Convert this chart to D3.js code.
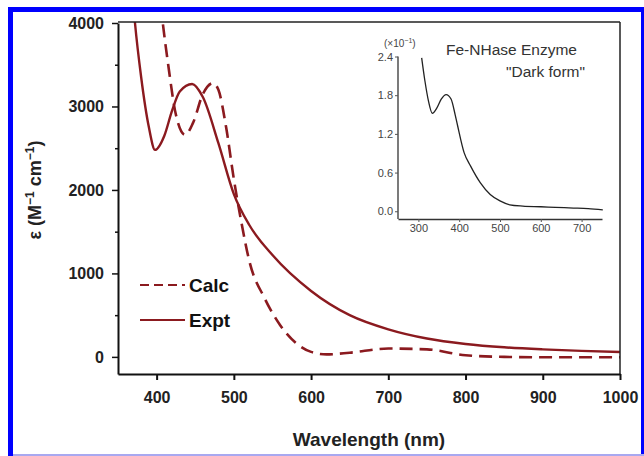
<!DOCTYPE html>
<html><head><meta charset="utf-8">
<script src="https://cdn.jsdelivr.net/npm/d3@7"></script>
<style>html,body{margin:0;padding:0;background:#fff}svg{display:block}</style>
</head><body>
<script>
// ---- data ----
const exptWl  = [365,372,380,390,398,410,420,430,446,460,480,500,520,550,600,650,700,750,800,850,900,950,1000];
const exptEps = [4800,4000,3350,2750,2480,2650,2950,3180,3270,3110,2560,1950,1580,1220,790,500,330,220,155,115,90,72,58];
const calcWl  = [400,408,415,425,437,447,460,473,480,490,500,510,520,540,560,580,600,620,650,700,750,800,850,900,950,1000];
const calcEps = [4700,4000,3500,2900,2660,2800,3150,3280,3200,2750,2130,1600,1150,700,380,170,60,30,50,100,90,20,0,-5,-5,-5];
const insetWl  = [308,316,325,334,345,356,368,380,390,396,412,428,452,476,500,524,556,600,636,680,716,752];
const insetAbs = [2.38,2.02,1.70,1.52,1.60,1.74,1.81,1.74,1.50,1.33,0.91,0.70,0.44,0.26,0.16,0.10,0.08,0.07,0.06,0.05,0.04,0.02];
const xTicks = [400,500,600,700,800,900,1000];
const yTicks = [0,1000,2000,3000,4000];
const yMinor = [500,1500,2500,3500];
const insetXTicks = [300,400,500,600,700];
const insetYTicks = [0,0.6,1.2,1.8,2.4];

const W = 644, H = 456;
const svg = d3.select("body").append("svg").attr("width", W).attr("height", H);
svg.append("rect").attr("width", W).attr("height", H).attr("fill", "#fff");
// frame
svg.append("rect").attr("x", 8).attr("y", 7).attr("width", 5).attr("height", 449).attr("fill", "#0000ff");
svg.append("rect").attr("x", 8).attr("y", 7).attr("width", 636).attr("height", 5).attr("fill", "#0000ff");
svg.append("rect").attr("x", 641).attr("y", 7).attr("width", 3).attr("height", 449).attr("fill", "#0000ff");
svg.append("rect").attr("x", 13).attr("y", 454).attr("width", 631).attr("height", 2).attr("fill", "#a8a8f0");

const color = "#8b1a1f";
const L = 118, R = 620, T = 22, B = 374;
const x = d3.scaleLinear().domain([350, 1000]).range([L, R]);
const y = d3.scaleLinear().domain([-205, 4000]).range([B, T + 1]);

svg.append("clipPath").attr("id", "clip").append("rect")
  .attr("x", L).attr("y", T).attr("width", R - L).attr("height", B - T);

const g = svg.append("g");
const line = d3.line().x(d => x(d[0])).y(d => y(d[1])).curve(d3.curveMonotoneX);
g.append("path").datum(d3.zip(exptWl, exptEps)).attr("d", line)
  .attr("fill", "none").attr("stroke", color).attr("stroke-width", 2.4).attr("clip-path", "url(#clip)");
g.append("path").datum(d3.zip(calcWl, calcEps)).attr("d", line)
  .attr("fill", "none").attr("stroke", color).attr("stroke-width", 2.6)
  .attr("stroke-dasharray", "13,7").attr("clip-path", "url(#clip)");

// box
svg.append("line").attr("x1", L).attr("x2", R).attr("y1", T).attr("y2", T).attr("stroke", "#222").attr("stroke-width", 1.5);
svg.append("line").attr("x1", R).attr("x2", R).attr("y1", T).attr("y2", B).attr("stroke", "#222").attr("stroke-width", 1.5);

const fontB = "'Liberation Sans', Arial, sans-serif";
const xAxis = svg.append("g").attr("transform", `translate(0,${B})`)
  .call(d3.axisBottom(x).tickValues(xTicks).tickSize(6).tickPadding(12).tickSizeOuter(0).tickFormat(d3.format("d")));
xAxis.select(".domain").attr("stroke", "#111").attr("stroke-width", 2);
xAxis.selectAll(".tick line").attr("stroke", "#111").attr("stroke-width", 2);
xAxis.selectAll("text").attr("font-family", fontB).attr("font-weight", "bold").attr("font-size", 16).attr("fill", "#222");

const yAxis = svg.append("g").attr("transform", `translate(${L},0)`)
  .call(d3.axisLeft(y).tickValues(yTicks).tickSize(6).tickPadding(8).tickSizeOuter(0).tickFormat(d3.format("d")));
yAxis.select(".domain").attr("stroke", "#111").attr("stroke-width", 2);
yAxis.selectAll(".tick line").attr("stroke", "#111").attr("stroke-width", 1.5);
yAxis.selectAll("text").attr("font-family", fontB).attr("font-weight", "bold").attr("font-size", 16).attr("fill", "#222");
const yMin = svg.append("g").attr("transform", `translate(${L},0)`)
  .call(d3.axisLeft(y).tickValues(yMinor).tickSize(3).tickFormat(""));
yMin.select(".domain").remove();
yMin.selectAll(".tick line").attr("stroke", "#111").attr("stroke-width", 1.5);

svg.append("text").attr("x", 369).attr("y", 446).attr("text-anchor", "middle")
  .attr("font-family", fontB).attr("font-weight", "bold").attr("font-size", 19).attr("fill", "#222")
  .text("Wavelength (nm)");
const yt = svg.append("text").attr("transform", "translate(41,190) rotate(-90)").attr("text-anchor", "middle")
  .attr("font-family", fontB).attr("font-weight", "bold").attr("font-size", 18).attr("fill", "#222");
yt.append("tspan").text("ε (M");
yt.append("tspan").attr("dy", -7).attr("font-size", 12).text("−1");
yt.append("tspan").attr("dy", 7).text(" cm");
yt.append("tspan").attr("dy", -7).attr("font-size", 12).text("−1");
yt.append("tspan").attr("dy", 7).text(")");

// legend
const leg = [{n: "Calc", dash: "9,5", yy: 285}, {n: "Expt", dash: null, yy: 320}];
leg.forEach(d => {
  svg.append("line").attr("x1", 140).attr("x2", 185).attr("y1", d.yy).attr("y2", d.yy)
    .attr("stroke", color).attr("stroke-width", 2.2).attr("stroke-dasharray", d.dash);
  svg.append("text").attr("x", 189).attr("y", d.yy + 7).attr("font-family", fontB)
    .attr("font-weight", "bold").attr("font-size", 19).attr("fill", "#111").text(d.n);
});

// inset
const ix = d3.scaleLinear().domain([250, 750]).range([398, 602]);
const iy = d3.scaleLinear().domain([-0.12, 2.4]).range([219, 56.5]);
const ig = svg.append("g");
ig.append("path").datum(d3.zip(insetWl, insetAbs))
  .attr("d", d3.line().x(d => ix(d[0])).y(d => iy(d[1])).curve(d3.curveMonotoneX))
  .attr("fill", "none").attr("stroke", "#222").attr("stroke-width", 1.3);
const fontI = "'Liberation Sans', Arial, sans-serif";
const ixa = ig.append("g").attr("transform", "translate(0,219)")
  .call(d3.axisBottom(ix).tickValues(insetXTicks).tickSize(3).tickPadding(2).tickSizeOuter(0));
ixa.select(".domain").attr("stroke", "#333").attr("stroke-width", 1.3);
ixa.selectAll(".tick line").attr("stroke", "#555");
ixa.selectAll("text").attr("font-family", fontI).attr("font-size", 11).attr("fill", "#444");
const iya = ig.append("g").attr("transform", "translate(398,0)")
  .call(d3.axisLeft(iy).tickValues(insetYTicks).tickSize(3).tickPadding(2).tickSizeOuter(0).tickFormat(d3.format(".1f")));
iya.select(".domain").attr("d", `M0,${iy(2.4)}V219`).attr("stroke", "#333").attr("stroke-width", 1.3);
iya.selectAll(".tick line").attr("stroke", "#555");
iya.selectAll("text").attr("font-family", fontI).attr("font-size", 11).attr("fill", "#444");
const sc = ig.append("text").attr("x", 384).attr("y", 47).attr("font-family", fontI).attr("font-size", 10).attr("fill", "#444");
sc.append("tspan").text("(×10");
sc.append("tspan").attr("dy", -4).attr("font-size", 7).text("−1");
sc.append("tspan").attr("dy", 4).text(")");
ig.append("text").attr("x", 446).attr("y", 55).attr("font-family", fontI).attr("font-size", 15.5).attr("fill", "#333").text("Fe-NHase Enzyme");
ig.append("text").attr("x", 585).attr("y", 77).attr("text-anchor", "end").attr("font-family", fontI).attr("font-size", 15.5).attr("fill", "#333").text("\"Dark form\"");
</script>
</body></html>
